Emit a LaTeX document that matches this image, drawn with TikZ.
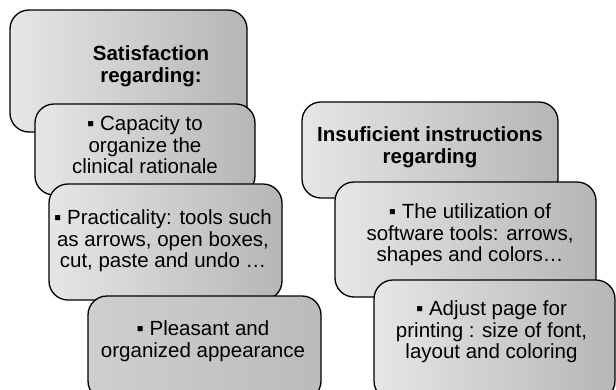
\documentclass[tikz,border=0pt]{standalone}
\usepackage{fontspec}
\setmainfont{Liberation Sans}
\begin{document}
\begin{tikzpicture}[x=1pt,y=-1pt,
  box/.style={draw=black, line width=1.3pt, rounded corners=19pt,
    left color=boxlight, right color=boxdark, inner sep=0pt},
  flatbox/.style={box, left color=boxmid, right color=boxdark2},
  txt/.style={align=center, font=\fontsize{20.5}{21.5}\selectfont, inner sep=0pt},
  head/.style={txt, font=\fontsize{20.5}{21.5}\selectfont\bfseries}]
\definecolor{boxlight}{HTML}{E6E6E6}
\definecolor{boxdark}{HTML}{B6B6B6}
\definecolor{boxmid}{HTML}{CFCFCF}
\definecolor{boxdark2}{HTML}{BBBBBB}
\useasboundingbox (0,0) rectangle (616,389);
\fill[white] (0,0) rectangle (616,389);
% left column
\node[box, minimum width=237pt, minimum height=122pt] (b1) at (128.5,71) {};
\node[head] (t1) at (151,66) {Satisfaction\\regarding:};
\node[box, minimum width=220pt, minimum height=91pt] (b2) at (145,149.5) {};
\node[txt] (t2) at (145,145) {▪ Capacity to\\organize the\\clinical rationale};
\node[box, minimum width=233pt, minimum height=116pt] (b3) at (165.5,242) {};
\node[txt] (t3) at (163,241) {▪ Practicality: tools such\\as arrows, open boxes,\\cut, paste and undo …};
\node[flatbox, minimum width=233pt, minimum height=104pt] (b4) at (204.5,348) {};
\node[txt] (t4) at (203,341) {▪ Pleasant and\\organized appearance};
% right column
\node[box, minimum width=256pt, minimum height=96pt] (b5) at (430,150) {};
\node[head] (t5) at (430,147) {Insuficient instructions\\regarding};
\node[box, minimum width=261pt, minimum height=115pt] (b6) at (465.5,239.5) {};
\node[txt] (t6) at (470,235) {▪ The utilization of\\software tools: arrows,\\shapes and colors…};
\node[box, minimum width=241pt, minimum height=120pt] (b7) at (494.5,340) {};
\node[txt] (t7) at (491.5,332) {▪ Adjust page for\\printing : size of font,\\layout and coloring};
\end{tikzpicture}
\end{document}
